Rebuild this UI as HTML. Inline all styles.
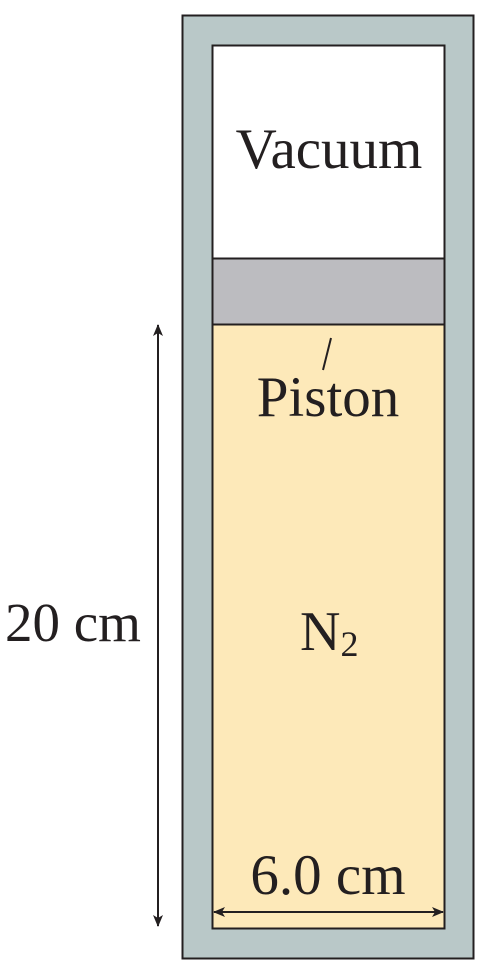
<!DOCTYPE html>
<html><head><meta charset="utf-8"><style>
html,body{margin:0;padding:0;background:#fff;}
svg{display:block;}
text{font-family:"Liberation Serif",serif;fill:#231f20;}
</style></head><body>
<svg width="488" height="976" viewBox="0 0 488 976">
<defs>
<marker id="ah" markerWidth="12" markerHeight="10" refX="11" refY="5" orient="auto-start-reverse" markerUnits="userSpaceOnUse">
<path d="M0,0 L12,5 L0,10 L3,5 Z" fill="#231f20"/>
</marker>
</defs>
<rect x="182.5" y="15.5" width="291" height="943" fill="#b9c8c8" stroke="#231f20" stroke-width="2"/>
<rect x="212.5" y="45.5" width="232" height="213" fill="#ffffff" stroke="#231f20" stroke-width="2"/>
<rect x="212.5" y="258.5" width="232" height="66" fill="#bcbcc0" stroke="#231f20" stroke-width="2"/>
<rect x="212.5" y="324.5" width="232" height="604" fill="#fde9b9" stroke="#231f20" stroke-width="2"/>
<text x="329" y="168" font-size="57" text-anchor="middle">Vacuum</text>
<line x1="331" y1="338" x2="323" y2="370" stroke="#231f20" stroke-width="2"/>
<text x="328" y="416" font-size="57" text-anchor="middle">Piston</text>
<text x="300" y="650" font-size="56">N<tspan font-size="36" dy="6">2</tspan></text>
<line x1="158" y1="325" x2="158" y2="926" stroke="#231f20" stroke-width="2" marker-start="url(#ah)" marker-end="url(#ah)"/>
<text x="5" y="641" font-size="55">20 cm</text>
<line x1="214" y1="912" x2="443" y2="912" stroke="#231f20" stroke-width="2" marker-start="url(#ah)" marker-end="url(#ah)"/>
<text x="328" y="894" font-size="57" text-anchor="middle">6.0 cm</text>
</svg>
</body></html>
